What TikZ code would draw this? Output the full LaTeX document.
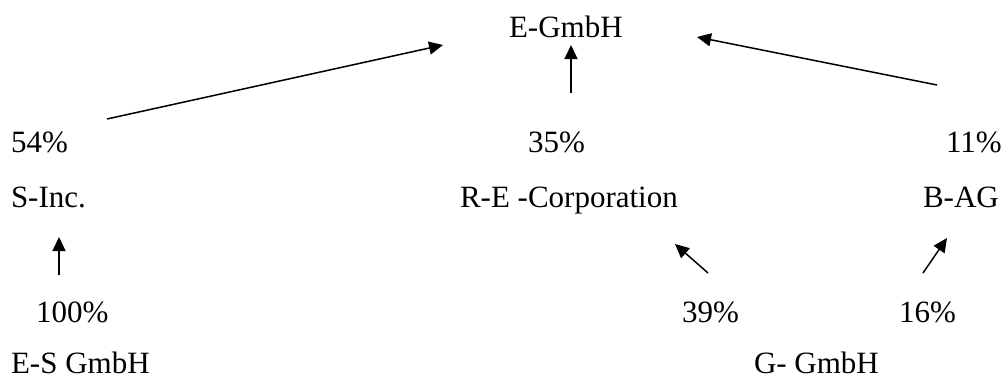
\documentclass[tikz,border=0pt]{standalone}
\usepackage{fontspec}
\setmainfont{Liberation Serif}
\usetikzlibrary{arrows.meta}
\tikzset{
  lbl/.style={anchor=base west, inner sep=0pt, outer sep=0pt, font=\fontsize{31}{37}\selectfont},
  conn/.style={line width=1.5pt, -{Triangle[length=14pt,width=13pt]}}
}
\begin{document}
\begin{tikzpicture}[x=1pt,y=-1pt]
\useasboundingbox (0,0) rectangle (1004,380);
% texts
\node[lbl] (egmbh) at (509,37) {E-GmbH};
\node[lbl] (p54) at (11,152) {54\%};
\node[lbl] (p35) at (528,152) {35\%};
\node[lbl] (p11) at (946,152) {11\%};
\node[lbl] (sinc) at (11,207) {S-Inc.};
\node[lbl] (recorp) at (460,207) {R-E -Corporation};
\node[lbl] (bag) at (923,207) {B-AG};
\node[lbl] (p100) at (36,322) {100\%};
\node[lbl] (p39) at (682,322) {39\%};
\node[lbl] (p16) at (899,322) {16\%};
\node[lbl] (esgmbh) at (11,373) {E-S GmbH};
\node[lbl] (ggmbh) at (754,373) {G- GmbH};
% connector end points
\coordinate (a1s) at (107,119);
\coordinate (a1e) at (443,45);
\coordinate (a2s) at (571,93);
\coordinate (a2e) at (571,45);
\coordinate (a3s) at (937,85);
\coordinate (a3e) at (697,37);
\coordinate (a4s) at (59,275);
\coordinate (a4e) at (59,237);
\coordinate (a5s) at (708,273);
\coordinate (a5e) at (675,244);
\coordinate (a6s) at (923,273);
\coordinate (a6e) at (947,238);
% connectors
\draw[conn] (a1s) -- (a1e);
\draw[conn] (a2s) -- (a2e);
\draw[conn] (a3s) -- (a3e);
\draw[conn] (a4s) -- (a4e);
\draw[conn] (a5s) -- (a5e);
\draw[conn] (a6s) -- (a6e);
\end{tikzpicture}
\end{document}
